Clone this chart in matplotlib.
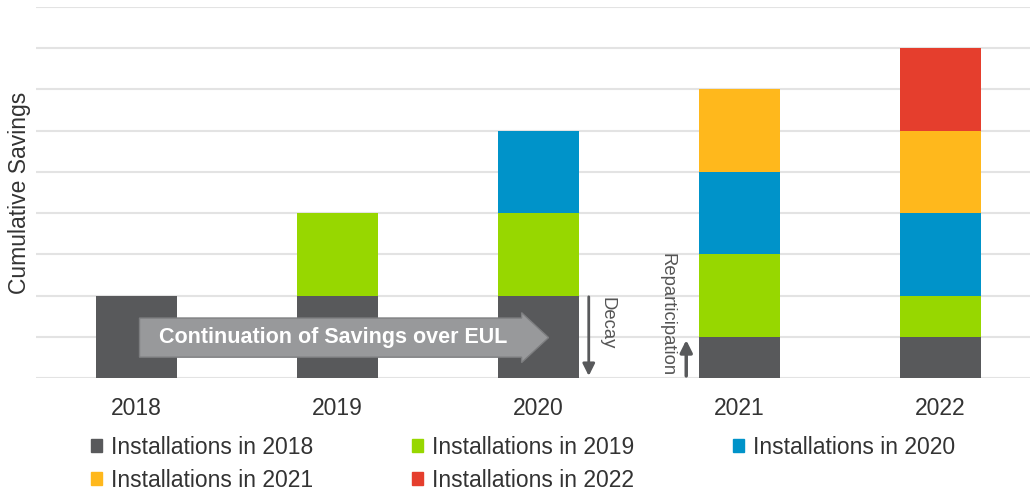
import numpy as np
import matplotlib.pyplot as plt
from matplotlib.patches import FancyArrow, Rectangle

plt.rcParams['font.family'] = ['Liberation Sans', 'DejaVu Sans']

# Daten
years = ['2018', '2019', '2020', '2021', '2022']
inst_2018 = [2, 2, 2, 1, 1]
inst_2019 = [0, 2, 2, 2, 1]
inst_2020 = [0, 0, 2, 2, 2]
inst_2021 = [0, 0, 0, 2, 2]
inst_2022 = [0, 0, 0, 0, 2]

series = [inst_2018, inst_2019, inst_2020, inst_2021, inst_2022]
labels = ['Installations in 2018', 'Installations in 2019', 'Installations in 2020',
          'Installations in 2021', 'Installations in 2022']
colors = ['#58595b', '#97d700', '#0093c9', '#ffb81c', '#e53e2d']

fig = plt.figure(figsize=(10.30, 4.93), dpi=100)
ax = fig.add_axes([36 / 1030, 115 / 493, 994 / 1030, 371 / 493])

x = np.arange(len(years))
bottom = np.zeros(len(years))
for vals, col in zip(series, colors):
    ax.bar(x, vals, width=0.4, bottom=bottom, color=col, zorder=2)
    bottom += np.array(vals)

ax.set_xlim(-0.5, -0.5 + 994 / 201)
ax.set_ylim(0, 9)
ax.set_yticks(np.arange(0, 10, 1))
ax.set_yticklabels([])
ax.grid(axis='y', color='#e3e3e3', linewidth=1.5, zorder=0)
ax.set_axisbelow(True)
for s in ax.spines.values():
    s.set_visible(False)
ax.tick_params(length=0)
ax.set_xticks(x)
ax.set_xticklabels(years, fontsize=16.5, color='#333333')
ax.tick_params(axis='x', pad=14)
ax.set_ylabel('Cumulative Savings', fontsize=16.5, color='#333333', labelpad=0)

# grosser Pfeil
arr = FancyArrow(0.015, 0.98, 2.035, 0, width=0.95, head_width=1.21, head_length=0.134,
                 length_includes_head=True, facecolor='#98999b', edgecolor='#7d7e80',
                 linewidth=1, zorder=3)
ax.add_patch(arr)
ax.text(0.98, 0.98, 'Continuation of Savings over EUL', color='white', fontsize=15.5,
        fontweight='bold', ha='center', va='center', zorder=4)

# Decay / Reparticipation
ax.annotate('', xy=(2.25, 0.05), xytext=(2.25, 1.97),
            arrowprops=dict(arrowstyle='-|>', color='#58595b', lw=2, mutation_scale=18,
                            shrinkA=0, shrinkB=0), zorder=4)
ax.text(2.34, 1.33, 'Decay', rotation=270, fontsize=13.3, color='#555555',
        ha='center', va='center')
ax.annotate('', xy=(2.735, 0.92), xytext=(2.735, 0.05),
            arrowprops=dict(arrowstyle='-|>', color='#58595b', lw=2.5, mutation_scale=18,
                            shrinkA=0, shrinkB=0), zorder=4)
ax.text(2.64, 1.53, 'Reparticipation', rotation=270, fontsize=13.3, color='#555555',
        ha='center', va='center')

# Legende
handles = [Rectangle((0, 0), 1, 1, color=c) for c in colors]
order = [0, 3, 1, 4, 2]
fig.legend([handles[i] for i in order], [labels[i] for i in order],
           ncol=3, loc='upper left', bbox_to_anchor=(91 / 1030, 1 - 436 / 493),
           frameon=False, fontsize=16.5, handlelength=0.48, handleheight=0.48,
           handletextpad=0.4, columnspacing=4.3, labelspacing=0.43,
           borderaxespad=0, borderpad=0, labelcolor='#333333')

plt.savefig('out.png', dpi=100)
